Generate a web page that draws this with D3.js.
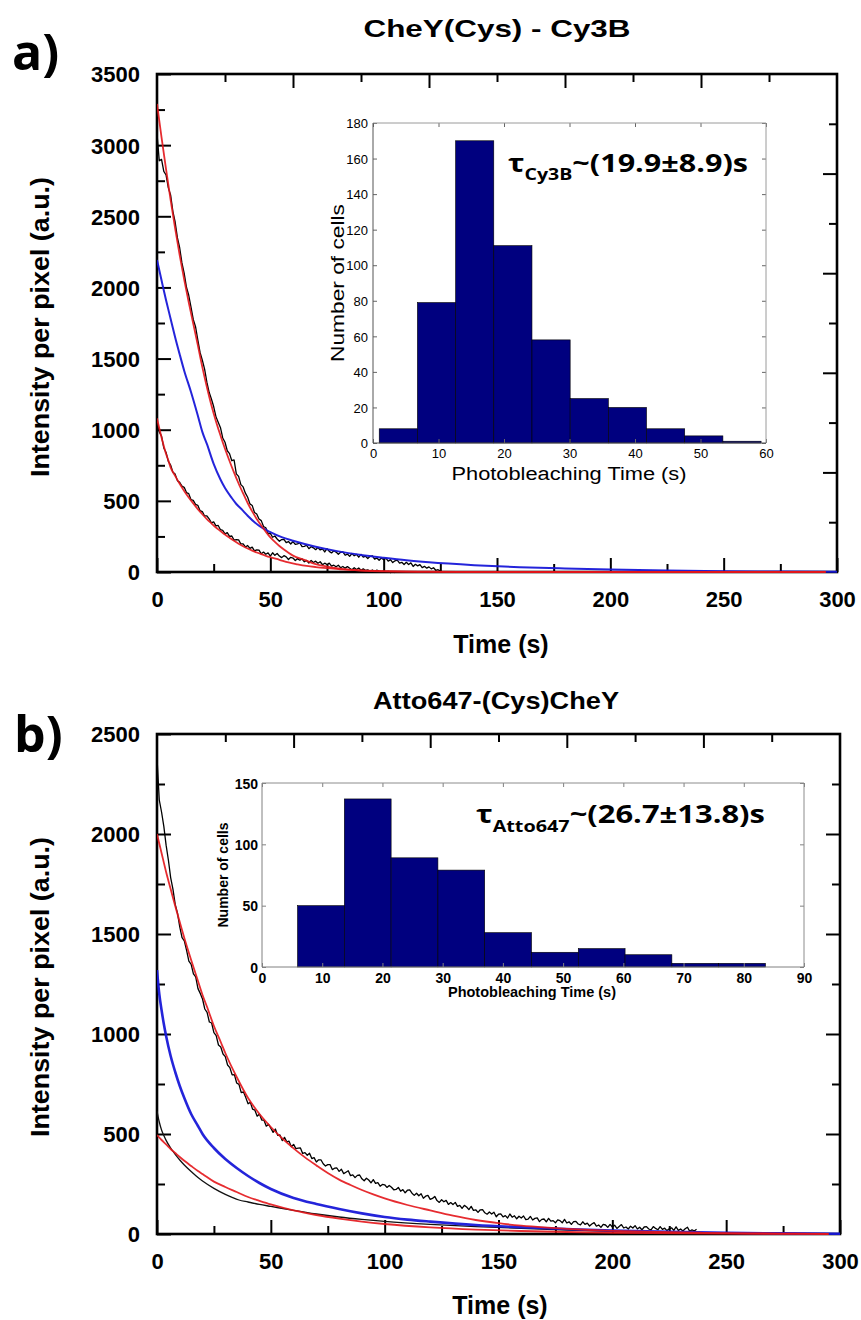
<!DOCTYPE html>
<html>
<head>
<meta charset="utf-8">
<script src="https://cdn.jsdelivr.net/npm/d3@7"></script>
<style>
  html, body { margin: 0; padding: 0; background: #fff; color: #000; }
  svg { display: block; }
</style>
</head>
<body>
<svg id="fig" width="861" height="1320"></svg>
<script>
// ---------------------------------------------------------------
// Photobleaching traces of labelled CheY (panel a: Cy3B, panel b: Atto647)
// ---------------------------------------------------------------

// sampling interval of the raw intensity traces (s per frame)
const traceDt = 1;

// ---- Panel a: CheY(Cys) - Cy3B ----
const cy3bTraceHigh = [
  3080,2890,2900,2815,2790,2700,2650,2535,2460,2350,
  2279,2172,2099,2001,1945,1862,1775,1724,1631,1543,
  1488,1426,1334,1263,1216,1163,1092,1052,1014,942,
  912,852,832,782,788,690,672,614,598,554,
  525,479,468,418,407,372,361,320,311,270,
  271,244,253,232,216,228,230,206,214,197,
  214,194,198,204,178,180,188,164,178,170,
  157,172,155,162,141,164,145,134,149,140,
  125,138,141,118,126,110,130,114,124,104,
  124,104,111,95,110,114,90,98,82,98,
  86,97,76,87,66,79,84,63,68,53,
  68,53,64,39,54,43,52,31,40,27,
  36,22,30,12,16,6
];
const cy3bTraceLow = [
  1050,985,955,872,840,778,752,702,688,642,
  630,603,595,558,551,508,503,475,469,431,
  425,394,395,374,345,352,324,327,297,292,
  268,277,250,253,224,228,226,197,198,176,
  186,166,175,148,156,154,128,140,125,134,
  111,135,117,130,112,101,115,106,88,103,
  98,81,94,83,92,72,81,63,81,67,
  76,61,72,51,62,53,62,41,48,37,
  48,30,39,27,38,26,16,30,18,28,
  12,22,11,15,4,14,3,13,4,-1,
  8,-1,4,-5,2,-4
];
const cy3bFitHighT = [0,2,4,6,8,10,12,14,16,18,20,22,24,26,28,30,32,34,36,38,40,42,44,46,48,50,52,54,56,58,60,65,70,75,80,85,90,95,100,110,120,140,170,200,250,295];
const cy3bFitHighY = [3290,3055,2830,2615,2415,2227,2055,1895,1745,1595,1440,1300,1172,1060,960,866,780,698,622,552,485,426,373,327,283,243,212,183,158,135,115,85,55,38,25,16,10,6,4,2,1,0,0,0,0,0];
const cy3bFitLowT = [0,1,2,3,4,5,6,8,10,12,14,16,18,20,22,24,26,28,30,32,34,36,38,40,42,44,46,48,50,54,58,62,66,70,75,80,85,90,100,110,120,140,170,200,250,295];
const cy3bFitLowY = [1080,1010,945,885,830,785,735,676,620,570,524,482,442,406,372,342,313,288,263,241,219,199,181,165,150,137,125,114,104,86,67,54,43,35,27,20,15,11,6,3,2,1,0,0,0,0];
const cy3bMeanT = [0,2,4,6,8,10,12,15,18,20,22,25,28,30,33,35,38,40,45,50,55,60,70,80,90,100,110,120,140,160,180,200,225,250,275,300];
const cy3bMeanY = [2193,2050,1910,1780,1650,1530,1415,1265,1100,985,900,760,650,590,520,478,430,395,325,280,245,220,178,145,120,100,82,68,48,34,25,18,11,6,3,1];

// histogram of photobleaching times, Cy3B
const cy3bBinEdges = [0.95,6.78,12.61,18.44,24.27,30.1,35.93,41.76,47.59,53.42,59.25];
const cy3bCounts   = [8,79,170,111,58,25,20,8,4,1];

// ---- Panel b: Atto647-(Cys)CheY ----
const attoTraceHigh = [
  2380,2170,2110,2038,1944,1870,1782,1724,1648,1604,
  1536,1482,1466,1418,1364,1348,1301,1286,1227,1203,
  1175,1125,1108,1060,1055,1007,992,945,935,900,
  887,845,832,796,797,755,748,707,710,682,
  651,658,624,619,589,600,570,569,539,549,
  529,508,525,493,495,467,483,461,464,436,
  448,427,429,430,403,407,394,404,377,382,
  360,371,371,351,340,347,347,322,329,330,
  313,324,302,309,316,292,296,282,293,295,
  276,266,279,270,256,272,253,257,239,248,
  246,233,243,234,221,223,233,214,222,206,
  219,221,204,193,204,191,201,179,189,193,
  173,178,188,167,158,171,161,168,148,157,
  147,158,138,143,128,143,135,122,138,118,
  121,108,121,122,106,99,110,100,109,86,
  99,101,86,92,80,100,84,91,76,89,
  80,90,72,74,88,70,78,81,62,73,
  75,61,78,64,67,56,71,67,56,73,
  55,61,48,62,63,50,46,61,48,54,
  40,50,57,39,45,33,48,45,33,48,
  35,44,28,38,47,30,35,25,39,30,
  42,25,34,21,35,37,25,21,37,28,
  21,37,23,29,17,26,31,18,36,18,
  25,15,26,34,13,21,15,24
];
const attoTraceLowT = [0,1,2,3,4,6,8,10,12,15,18,20,25,30,33,36,40,45,50,60,70,80,90,100,120,140,160,180,200,220,240];
const attoTraceLowY = [615,560,520,492,468,430,398,370,345,312,282,265,228,198,183,170,160,148,138,118,100,85,73,63,48,37,28,20,13,8,4];
const attoFitHighT = [0,2,4,6,8,10,12,15,18,20,22,25,28,30,35,40,45,50,55,60,65,70,75,80,85,90,95,100,110,120,130,140,150,160,170,180,190,200,220,240,260,280,295];
const attoFitHighY = [2000,1905,1810,1725,1640,1560,1480,1370,1265,1195,1135,1040,960,905,785,680,600,535,478,428,383,343,305,272,245,220,198,178,145,118,92,70,54,42,33,26,20,16,10,6,3,2,1];
const attoFitLowT = [0,2,4,6,8,10,12,15,18,20,25,30,35,40,45,50,60,70,80,90,100,120,140,160,180,200,250,295];
const attoFitLowY = [495,470,448,425,405,385,366,340,315,300,262,235,210,185,166,148,118,95,77,62,50,33,22,15,10,6,2,0];
const attoMeanT = [0,1,2,3,4,6,8,10,12,15,18,20,25,30,35,40,45,50,60,70,80,90,100,110,120,140,160,180,200,225,250,275,300];
const attoMeanY = [1320,1200,1120,1050,990,890,810,740,680,600,540,500,430,375,330,290,255,225,180,150,125,103,85,72,62,45,34,25,17,11,6,3,1];

// histogram of photobleaching times, Atto647
const attoBinEdges = [5.9,13.67,21.44,29.21,36.98,44.75,52.52,60.29,68.06,75.83,83.6];
const attoCounts   = [50,137,89,79,28,12,15,10,3,3];

// axis tick values
const timeTicks = [0,25,50,75,100,125,150,175,200,225,250,275,300];
const cy3bIntensityTicks = [0,250,500,750,1000,1250,1500,1750,2000,2250,2500,2750,3000,3250,3500];
const attoIntensityTicks = [0,250,500,750,1000,1250,1500,1750,2000,2250,2500];
const boxDivisions = [1,2,3,4,5,6,7,8,9];
const cy3bHistXTicks = [0,10,20,30,40,50,60];
const cy3bHistYTicks = [0,20,40,60,80,100,120,140,160,180];
const attoHistXTicks = [0,10,20,30,40,50,60,70,80,90];
const attoHistYTicks = [0,50,100,150];

// ---------------------------------------------------------------
const svg = d3.select("#fig");
svg.append("rect").attr("width", 861).attr("height", 1320).attr("fill", "#fff");

const RED = "#e3151a";
const BLUE = "#1818d8";
const NAVY = "#00007f";
const SANS = "'Liberation Sans', Arial, sans-serif";
const ROUND = "'Open Sans', 'Noto Sans', sans-serif";

function stretchTo(textSel, width, x0) {
  const w = textSel.node().getComputedTextLength();
  const k = width / w;
  textSel.attr("transform", `translate(${x0},0) scale(${k},1) translate(${-x0},0)`);
}

function drawPanel(p) {
  const g = svg.append("g");
  const x = d3.scaleLinear().domain([0, 300]).range([p.left, p.right]);
  const y = d3.scaleLinear().domain([0, p.ymax]).range([p.bottom, p.top]);
  const bx = d3.scaleLinear().domain([0, 10]).range([p.left, p.right]);
  const by = d3.scaleLinear().domain([0, 10]).range([p.bottom, p.top]);

  // panel letter
  g.append("text").attr("x", p.letterX).attr("y", p.letterY)
    .style("font-family", ROUND).style("font-weight", 700).style("font-size", "50px")
    .text(p.letter);

  // title
  g.append("text").attr("x", p.titleX).attr("y", p.titleY).attr("text-anchor", "middle")
    .attr("textLength", p.titleW).attr("lengthAdjust", "spacingAndGlyphs")
    .style("font-family", SANS).style("font-weight", 700).style("font-size", "24px")
    .text(p.title);

  // bottom axis: inward ticks, labels below
  const axB = g.append("g").attr("transform", `translate(0,${p.bottom})`)
    .call(d3.axisBottom(x).tickValues(timeTicks).tickSize(-14).tickFormat(d => d % 50 === 0 ? d : ""));
  axB.selectAll(".tick line").attr("y2", d => d % 50 === 0 ? -14 : -8);
  axB.selectAll(".tick text").attr("y", 35).attr("dy", null)
    .style("font-family", SANS).style("font-weight", 700).style("font-size", "22px");

  // left axis
  const axL = g.append("g").attr("transform", `translate(${p.left},0)`)
    .call(d3.axisLeft(y).tickValues(p.yTicks).tickSize(-14).tickPadding(17).tickFormat(d => d % 500 === 0 ? d : ""));
  axL.selectAll(".tick line").attr("x2", d => d % 500 === 0 ? 14 : 8);
  axL.selectAll(".tick text").attr("dy", "0.36em")
    .style("font-family", SANS).style("font-weight", 700).style("font-size", "22px");

  // top and right box ticks
  const axT = g.append("g").attr("transform", `translate(0,${p.top})`)
    .call(d3.axisTop(bx).tickValues(boxDivisions).tickSize(-14).tickFormat(""));
  axT.selectAll(".tick line").attr("y2", d => d % 2 === 0 ? 14 : 8);
  const axR = g.append("g").attr("transform", `translate(${p.right},0)`)
    .call(d3.axisRight(by).tickValues(boxDivisions).tickSize(-14).tickFormat(""));
  axR.selectAll(".tick line").attr("x2", d => d % 2 === 0 ? -14 : -8);

  [axB, axL, axT, axR].forEach(a => {
    a.select(".domain").remove();
    a.selectAll(".tick line").attr("stroke", "#000").attr("stroke-width", 2);
    a.selectAll(".tick text").attr("fill", "#000");
  });

  g.append("rect").attr("x", p.left).attr("y", p.top)
    .attr("width", p.right - p.left).attr("height", p.bottom - p.top)
    .attr("fill", "none").attr("stroke", "#000").attr("stroke-width", 2.6);

  // axis titles
  g.append("text").attr("x", p.timeX).attr("y", p.timeY).attr("text-anchor", "middle")
    .style("font-family", SANS).style("font-weight", 700).style("font-size", "25px")
    .text("Time (s)");
  g.append("text").attr("transform", `translate(49,${p.yTitleY}) rotate(-90)`)
    .attr("text-anchor", "middle").attr("textLength", 300).attr("lengthAdjust", "spacingAndGlyphs")
    .style("font-family", SANS).style("font-weight", 700).style("font-size", "26px")
    .text("Intensity per pixel (a.u.)");

  // inset histogram
  const h = p.inset;
  const hx = d3.scaleLinear().domain([0, h.xmax]).range([h.left, h.right]);
  const hy = d3.scaleLinear().domain([0, h.ymax]).range([h.bottom, h.top]);
  const ig = g.append("g");
  ig.append("rect").attr("x", h.left).attr("y", h.top)
    .attr("width", h.right - h.left).attr("height", h.bottom - h.top).attr("fill", "#fff");
  const bins = h.counts.map((c, i) => ({ x0: h.edges[i], x1: h.edges[i + 1], c }));
  ig.selectAll("rect.bar").data(bins).join("rect").attr("class", "bar")
    .attr("x", d => hx(d.x0)).attr("width", d => hx(d.x1) - hx(d.x0))
    .attr("y", d => hy(d.c)).attr("height", d => hy(0) - hy(d.c))
    .attr("fill", NAVY).attr("stroke", "#000").attr("stroke-width", 0.6);

  const tickLen = 4;
  const hB = ig.append("g").attr("transform", `translate(0,${h.bottom})`)
    .call(d3.axisBottom(hx).tickValues(h.xTicks).tickSize(-tickLen).tickPadding(0));
  const hL = ig.append("g").attr("transform", `translate(${h.left},0)`)
    .call(d3.axisLeft(hy).tickValues(h.yTicks).tickSize(-tickLen).tickPadding(h.yPad));
  const hT = ig.append("g").attr("transform", `translate(0,${h.top})`)
    .call(d3.axisTop(hx).tickValues(h.xTicks).tickSize(-tickLen).tickFormat(""));
  const hR = ig.append("g").attr("transform", `translate(${h.right},0)`)
    .call(d3.axisRight(hy).tickValues(h.yTicks).tickSize(-tickLen).tickFormat(""));
  [hB, hL, hT, hR].forEach(a => {
    a.select(".domain").remove();
    a.selectAll(".tick line").attr("stroke", h.tickColor).attr("stroke-width", 1);
  });
  hB.selectAll(".tick text").attr("y", h.xLabelDy).attr("dy", null);
  hL.selectAll(".tick text").attr("dy", "0.36em");
  [hB, hL].forEach(a => a.selectAll(".tick text").attr("fill", "#000")
    .style("font-family", SANS).style("font-weight", h.weight).style("font-size", h.tickFont + "px"));

  // inset frame
  ig.append("line").attr("x1", h.left).attr("x2", h.right).attr("y1", h.top).attr("y2", h.top).attr("stroke", h.frameColor);
  ig.append("line").attr("x1", h.right).attr("x2", h.right).attr("y1", h.top).attr("y2", h.bottom).attr("stroke", h.frameColor);
  ig.append("line").attr("x1", h.left).attr("x2", h.right).attr("y1", h.bottom).attr("y2", h.bottom).attr("stroke", h.axisColor);
  ig.append("line").attr("x1", h.left).attr("x2", h.left).attr("y1", h.top).attr("y2", h.bottom).attr("stroke", h.axisColor);

  // inset axis titles
  ig.append("text").attr("x", h.xTitleX).attr("y", h.xTitleY).attr("text-anchor", "middle")
    .attr("textLength", h.xTitleW).attr("lengthAdjust", "spacingAndGlyphs")
    .style("font-family", SANS).style("font-weight", h.weight).style("font-size", h.titleFont + "px")
    .text("Photobleaching Time (s)");
  ig.append("text").attr("transform", `translate(${h.yTitleX},${(h.top + h.bottom) / 2}) rotate(-90)`)
    .attr("text-anchor", "middle").attr("textLength", h.yTitleW).attr("lengthAdjust", "spacingAndGlyphs")
    .style("font-family", SANS).style("font-weight", h.weight).style("font-size", h.yTitleFont + "px")
    .text("Number of cells");

  // lifetime annotation
  const tau = ig.append("text").attr("x", h.tauX).attr("y", h.tauY)
    .style("font-family", ROUND).style("font-weight", 700).style("font-size", "25px");
  tau.append("tspan").text("τ");
  tau.append("tspan").attr("dy", h.subDy).style("font-size", "16px").text(h.tauSub);
  tau.append("tspan").attr("dy", -h.subDy).text(h.tauVal);
  stretchTo(tau, h.tauW, h.tauX);

  // curves
  const clipId = "clip-" + p.letter[0];
  svg.append("defs").append("clipPath").attr("id", clipId)
    .append("rect").attr("x", p.left).attr("y", p.top - 2)
    .attr("width", p.right - p.left).attr("height", p.bottom - p.top + 4);
  const cg = g.append("g").attr("clip-path", `url(#${clipId})`);

  const traceLine = d3.line().x((d, i) => x(i * traceDt)).y(d => y(d));
  const pairLine = d3.line().x(d => x(d[0])).y(d => y(d[1])).curve(d3.curveMonotoneX);
  const zip = (ts, vs) => ts.map((t, i) => [t, vs[i]]);

  p.traces.forEach(tr => {
    cg.append("path").datum(tr).attr("d", traceLine)
      .attr("fill", "none").attr("stroke", "#000").attr("stroke-width", 1.3).attr("stroke-linejoin", "round");
  });
  if (p.smoothTrace) {
    cg.append("path").datum(zip(p.smoothTrace[0], p.smoothTrace[1])).attr("d", pairLine)
      .attr("fill", "none").attr("stroke", "#111").attr("stroke-width", 1.3);
  }
  cg.append("path").datum(zip(p.mean[0], p.mean[1])).attr("d", pairLine)
    .attr("fill", "none").attr("stroke", BLUE).attr("stroke-width", p.blueWidth).attr("stroke-opacity", 0.95);
  p.fits.forEach(f => {
    cg.append("path").datum(zip(f[0], f[1])).attr("d", pairLine)
      .attr("fill", "none").attr("stroke", RED).attr("stroke-width", 1.8).attr("stroke-opacity", 0.9);
  });
}

drawPanel({
  letter: "a)", letterX: 12, letterY: 70,
  title: "CheY(Cys) - Cy3B", titleX: 497, titleY: 37, titleW: 267,
  left: 157, right: 837, top: 74, bottom: 572, ymax: 3500, yTicks: cy3bIntensityTicks,
  timeX: 501, timeY: 653, yTitleY: 327,
  traces: [cy3bTraceHigh, cy3bTraceLow],
  mean: [cy3bMeanT, cy3bMeanY], blueWidth: 2,
  fits: [[cy3bFitHighT, cy3bFitHighY], [cy3bFitLowT, cy3bFitLowY]],
  inset: {
    left: 373, right: 766, top: 123, bottom: 443, xmax: 60, ymax: 180,
    edges: cy3bBinEdges, counts: cy3bCounts, xTicks: cy3bHistXTicks, yTicks: cy3bHistYTicks,
    tickColor: "#666", frameColor: "#9a9a9a", axisColor: "#555",
    weight: 400, tickFont: 13, titleFont: 18, yTitleFont: 19, yPad: 5, xLabelDy: 15,
    xTitleX: 569, xTitleY: 480, xTitleW: 235, yTitleX: 344, yTitleW: 158,
    tauX: 508, tauY: 172, tauW: 240, subDy: 8, tauSub: "Cy3B", tauVal: "~(19.9±8.9)s"
  }
});

drawPanel({
  letter: "b)", letterX: 14, letterY: 752,
  title: "Atto647-(Cys)CheY", titleX: 496, titleY: 709, titleW: 246,
  left: 157, right: 840, top: 734, bottom: 1234, ymax: 2500, yTicks: attoIntensityTicks,
  timeX: 500, timeY: 1314, yTitleY: 987,
  traces: [attoTraceHigh],
  smoothTrace: [attoTraceLowT, attoTraceLowY],
  mean: [attoMeanT, attoMeanY], blueWidth: 2.6,
  fits: [[attoFitHighT, attoFitHighY], [attoFitLowT, attoFitLowY]],
  inset: {
    left: 262, right: 804, top: 783, bottom: 967, xmax: 90, ymax: 150,
    edges: attoBinEdges, counts: attoCounts, xTicks: attoHistXTicks, yTicks: attoHistYTicks,
    tickColor: "#808080", frameColor: "#8c8c8c", axisColor: "#808080",
    weight: 700, tickFont: 14, titleFont: 14, yTitleFont: 14, yPad: 4, xLabelDy: 16,
    xTitleX: 532, xTitleY: 997, xTitleW: 168, yTitleX: 228, yTitleW: 105,
    tauX: 476, tauY: 823, tauW: 289, subDy: 9, tauSub: "Atto647", tauVal: "~(26.7±13.8)s"
  }
});
</script>
</body>
</html>
